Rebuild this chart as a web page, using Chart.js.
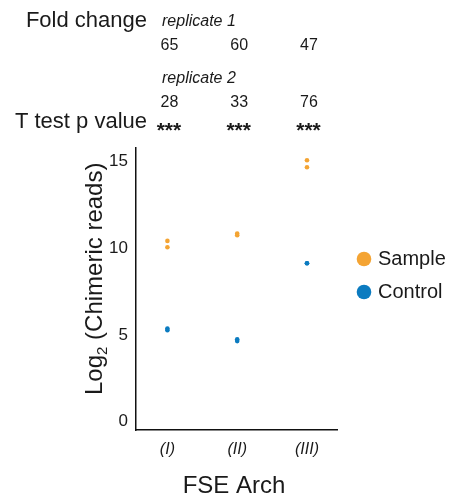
<!DOCTYPE html>
<html>
<head>
<meta charset="utf-8">
<script src="https://cdn.jsdelivr.net/npm/chart.js@4/dist/chart.umd.min.js"></script>
<style>
  html, body { margin:0; padding:0; background:#fff; }
  #wrap { width:461px; height:502px; position:relative; }
</style>
</head>
<body>
<div id="wrap"><canvas id="chart"></canvas></div>
<script>
// Datos
const arches = ['(I)', '(II)', '(III)'];
const sampleRep1 = [10.43, 10.86, 15.08];
const sampleRep2 = [10.06, 10.76, 14.68];
const controlRep1 = [5.38, 4.75, 9.14];
const controlRep2 = [5.28, 4.65, 9.14];
const foldRep1 = ['65', '60', '47'];
const foldRep2 = ['28', '33', '76'];
const pStars = ['***', '***', '***'];
const yTicks = [0, 5, 10, 15];

const ORANGE = '#F4A433';
const BLUE = '#0B7BC0';
const INK = '#1a1a1a';
const FONT = '"Liberation Sans", Arial, sans-serif';

const toPoints = (a, b) => arches.flatMap((_, i) => [{x:i+1, y:a[i]}, {x:i+1, y:b[i]}]);

// Textos extra: cabecera, título del eje Y con subíndice, leyenda
const extras = {
  id: 'extras',
  afterDraw(chart){
    const ctx = chart.ctx;
    const xs = chart.scales.x;
    ctx.save();
    ctx.fillStyle = INK;

    // cabecera
    ctx.textAlign = 'right';
    ctx.textBaseline = 'alphabetic';
    ctx.font = '22px ' + FONT;
    ctx.fillText('Fold change', 147, 27);
    ctx.fillText('T test p value', 147, 128);

    ctx.textAlign = 'left';
    ctx.font = 'italic 16px ' + FONT;
    ctx.fillText('replicate 1', 162, 26);
    ctx.fillText('replicate 2', 162, 83);

    ctx.textAlign = 'center';
    ctx.font = '16px ' + FONT;
    arches.forEach((_, i) => {
      const px = xs.getPixelForValue(i+1) + 2;
      ctx.fillText(foldRep1[i], px, 50);
      ctx.fillText(foldRep2[i], px, 107);
    });
    ctx.font = 'bold 21px ' + FONT;
    arches.forEach((_, i) => {
      ctx.fillText(pStars[i], xs.getPixelForValue(i+1) + 1.5, 137);
    });

    // título eje X
    ctx.font = '24px ' + FONT;
    ctx.fillText('FSE Arch', 234, 493);

    // título eje Y (rotado, con subíndice)
    ctx.save();
    ctx.translate(102, 395);
    ctx.rotate(-Math.PI/2);
    ctx.textAlign = 'left';
    ctx.font = '24px ' + FONT;
    let cx = 0;
    ctx.fillText('Log', cx, 0);
    cx += ctx.measureText('Log').width;
    ctx.font = '15px ' + FONT;
    ctx.fillText('2', cx, 5);
    cx += ctx.measureText('2').width;
    ctx.font = '24px ' + FONT;
    ctx.fillText(' (Chimeric reads)', cx, 0);
    ctx.restore();

    // leyenda
    chart.data.datasets.forEach((ds, i) => {
      const y = 259 + i*33;
      ctx.beginPath();
      ctx.arc(364, y, 7.3, 0, Math.PI*2);
      ctx.fillStyle = ds.backgroundColor;
      ctx.fill();
      ctx.fillStyle = INK;
      ctx.font = '20px ' + FONT;
      ctx.textAlign = 'left';
      ctx.textBaseline = 'middle';
      ctx.fillText(ds.label, 378, y);
    });
    ctx.restore();
  }
};

new Chart(document.getElementById('chart'), {
  type: 'scatter',
  data: {
    datasets: [
      { label:'Sample', data: toPoints(sampleRep1, sampleRep2), backgroundColor: ORANGE, borderColor: ORANGE, pointRadius: 2.3, borderWidth: 0 },
      { label:'Control', data: toPoints(controlRep1, controlRep2), backgroundColor: BLUE, borderColor: BLUE, pointRadius: 2.3, borderWidth: 0 }
    ]
  },
  options: {
    responsive: true,
    maintainAspectRatio: false,
    animation: false,
    layout: { padding: { left:0, top:148, right:124, bottom:0 } },
    plugins: { legend: { display:false }, tooltip: { enabled:false } },
    scales: {
      x: {
        type: 'linear',
        min: 0.55, max: 3.43,
        afterBuildTicks: s => { s.ticks = arches.map((_, i) => ({ value: i+1 })); },
        afterFit: s => { s.height = 72; },
        grid: { display:false, drawTicks:false },
        border: { display:true, color:'#111', width:1.5 },
        ticks: { padding: 10, color: INK, font: { family: FONT, size: 16, style: 'italic' },
                 callback: v => arches[v-1] }
      },
      y: {
        min: -0.48, max: 15.79,
        afterBuildTicks: s => { s.ticks = yTicks.map(v => ({ value: v })); },
        afterFit: s => { s.width = 136; },
        grid: { display:false, drawTicks:false },
        border: { display:true, color:'#111', width:1.5 },
        ticks: { padding: 8, color: INK, font: { family: FONT, size: 17 } }
      }
    }
  },
  plugins: [extras]
});
</script>
</body>
</html>
